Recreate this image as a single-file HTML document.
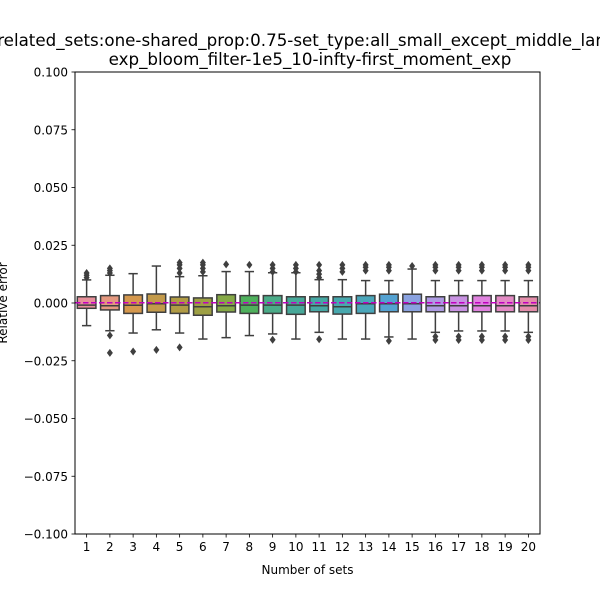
<!DOCTYPE html>
<html><head><meta charset="utf-8"><style>
body{margin:0;background:#fff;}
svg{display:block;font-family:"DejaVu Sans","Liberation Sans",sans-serif;}
</style></head><body>
<svg id="chart" width="600" height="600">
<text x="310" y="46" font-size="16.7" text-anchor="middle">related_sets:one-shared_prop:0.75-set_type:all_small_except_middle_large</text>
<text x="310" y="65" font-size="16.7" text-anchor="middle">exp_bloom_filter-1e5_10-infty-first_moment_exp</text>
<g id="plot"></g>
<text x="307.5" y="574" font-size="12" text-anchor="middle">Number of sets</text>
<text transform="translate(7,303) rotate(-90)" font-size="12" text-anchor="middle">Relative error</text>
</svg>
<script>
const categories=["1","2","3","4","5","6","7","8","9","10","11","12","13","14","15","16","17","18","19","20"];
const q1=[-0.0023,-0.003,-0.0045,-0.004,-0.0045,-0.0053,-0.0039,-0.0045,-0.0045,-0.0049,-0.0038,-0.0048,-0.0045,-0.0038,-0.0038,-0.0038,-0.0038,-0.0038,-0.0038,-0.0038];
const q3=[0.0027,0.0032,0.0035,0.0039,0.0026,0.0022,0.0036,0.0032,0.0032,0.0027,0.0027,0.0027,0.0032,0.0038,0.0038,0.0027,0.0032,0.0032,0.0032,0.0027];
const medians=[-0.0009,-0.0012,-0.001,-0.0003,-0.0009,-0.0016,-0.0012,-0.0009,-0.0009,-0.0009,-0.0012,-0.0016,-0.0003,-0.0003,-0.0003,-0.0012,-0.0012,-0.0012,-0.0012,-0.0012];
const whiskLo=[-0.0098,-0.012,-0.013,-0.0116,-0.013,-0.0156,-0.015,-0.0141,-0.0134,-0.0156,-0.0127,-0.0156,-0.0156,-0.0147,-0.0156,-0.0127,-0.0121,-0.0121,-0.0121,-0.0127];
const whiskHi=[0.010,0.012,0.0127,0.016,0.0114,0.0118,0.0136,0.0136,0.0131,0.0131,0.0101,0.0101,0.0097,0.0097,0.0147,0.0097,0.0097,0.0097,0.0097,0.0097];
const outliersHi=[[0.011,0.012,0.013],[0.013,0.014,0.015],[],[],[0.013,0.015,0.0165,0.0175],[0.0135,0.015,0.0165,0.0175],[0.0167],[0.0165],[0.0135,0.015,0.0165],[0.0135,0.015,0.0165],[0.011,0.0125,0.014,0.0165],[0.0135,0.015,0.0165],[0.014,0.0155,0.0165],[0.014,0.0155,0.0165],[0.016],[0.014,0.0155,0.0165],[0.014,0.0155,0.0165],[0.014,0.0155,0.0165],[0.014,0.0155,0.0165],[0.014,0.0155,0.0165]];
const outliersLo=[[],[-0.014,-0.0216],[-0.021],[-0.0203],[-0.0192],[],[],[],[-0.0159],[],[-0.0157],[],[],[-0.0164],[],[-0.0145,-0.016],[-0.0145,-0.016],[-0.0145,-0.016],[-0.0145,-0.016],[-0.0145,-0.016]];
const meanValue=0.0001;
const yTicks=[0.1,0.075,0.05,0.025,0,-0.025,-0.05,-0.075,-0.1];
const yTickLabels=["0.100","0.075","0.050","0.025","0.000","\u22120.025","\u22120.050","\u22120.075","\u22120.100"];
const colors=["#e8909a","#e4987f","#d5984d","#c39a4a","#b09b45","#9ea044","#86a946","#4eb05c","#4aab88","#47a899","#46a8a4","#47a8ae","#4aa6ba","#54a2d2","#8aa2e0","#ad9ce3","#c892e2","#e083df","#e38bc4","#e38daa"];

const L=75,R=540,T=72,B=534;
const ymin=-0.1,ymax=0.1;
const y=v=>B-(v-ymin)/(ymax-ymin)*(B-T);
const band=(R-L)/categories.length;
const xc=i=>L+band*(i+0.5);
const NS="http://www.w3.org/2000/svg";
const plot=document.getElementById('plot');
function mk(tag,attrs,parent){const e=document.createElementNS(NS,tag);for(const k in attrs)e.setAttribute(k,attrs[k]);(parent||plot).appendChild(e);return e;}
const gc="#3f3f3f";
categories.forEach((c,i)=>{
  const g=mk('g',{});
  
  
  const x=xc(i),hw=band*0.4,cw=band*0.2;
  mk('line',{x1:x,x2:x,y1:y(q1[i]),y2:y(whiskLo[i]),stroke:gc,'stroke-width':1.5},g);
  mk('line',{x1:x,x2:x,y1:y(q3[i]),y2:y(whiskHi[i]),stroke:gc,'stroke-width':1.5},g);
  mk('line',{x1:x-cw,x2:x+cw,y1:y(whiskLo[i]),y2:y(whiskLo[i]),stroke:gc,'stroke-width':1.5},g);
  mk('line',{x1:x-cw,x2:x+cw,y1:y(whiskHi[i]),y2:y(whiskHi[i]),stroke:gc,'stroke-width':1.5},g);
  mk('rect',{x:x-hw,y:y(q3[i]),width:2*hw,height:y(q1[i])-y(q3[i]),fill:colors[i],stroke:gc,'stroke-width':1.5},g);
  mk('line',{x1:x-hw,x2:x+hw,y1:y(medians[i]),y2:y(medians[i]),stroke:gc,'stroke-width':1.5},g);
  outliersHi[i].concat(outliersLo[i]).forEach(v=>{
    const d=mk('path',{d:`M${x} ${y(v)-4}L${x+3} ${y(v)}L${x} ${y(v)+4}L${x-3} ${y(v)}Z`,fill:gc},g);
    
    
  });
});
const ml=mk('line',{x1:L,x2:R,y1:y(meanValue),y2:y(meanValue),stroke:"#bf00bf",'stroke-width':1.5,'stroke-dasharray':'5.5,2.5'});


const frame=mk('rect',{x:L,y:T,width:R-L,height:B-T,fill:'none',stroke:'#000','stroke-width':1});


yTicks.forEach((v,k)=>{
  mk('line',{x1:L-3.5,x2:L,y1:y(v),y2:y(v),stroke:'#000','stroke-width':0.8});
  const t=mk('text',{x:L-7,y:y(v)+4.5,'font-size':12,'text-anchor':'end'});
  t.textContent=yTickLabels[k];
  
  
});
categories.forEach((c,i)=>{
  mk('line',{x1:xc(i),x2:xc(i),y1:B,y2:B+3.5,stroke:'#000','stroke-width':0.8});
  const t=mk('text',{x:xc(i),y:B+17,'font-size':12,'text-anchor':'middle'});
  t.textContent=c;
  
  
});
</script>
</body></html>
